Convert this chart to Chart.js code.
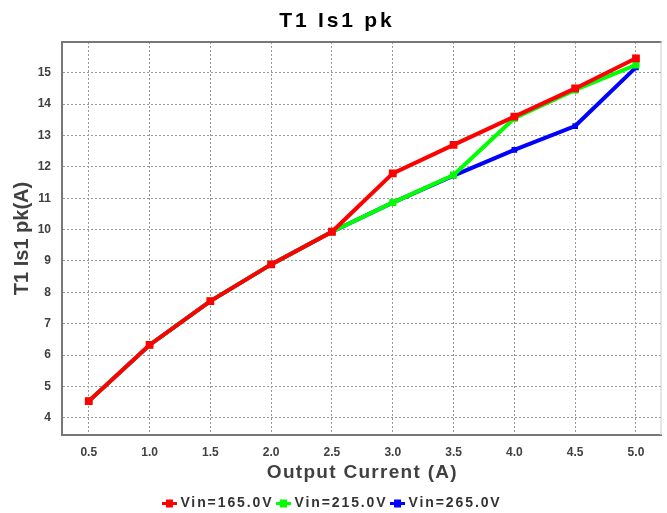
<!DOCTYPE html>
<html lang="en">
<head>
  <meta charset="UTF-8">
  <title>T1 Is1 pk</title>
  <style>
    body { margin: 0; background: #fff; }
    .chart-box { width: 667px; height: 513px; }
  </style>
</head>
<body>
  <div class="chart-box"><canvas id="chart"></canvas></div>

  <script src="https://cdn.jsdelivr.net/npm/chart.js"></script>
  <script>
    // values
    const currents = [0.5, 1.0, 1.5, 2.0, 2.5, 3.0, 3.5, 4.0, 4.5, 5.0];
    const vin165 = [4.53, 6.32, 7.72, 8.89, 9.93, 11.79, 12.70, 13.60, 14.50, 15.46];
    const vin215 = [4.53, 6.32, 7.72, 8.89, 9.93, 10.86, 11.74, 13.55, 14.45, 15.25];
    const vin265 = [4.53, 6.32, 7.72, 8.89, 9.93, 10.86, 11.72, 12.54, 13.30, 15.17];
    const seriesLabels = ['Vin=165.0V', 'Vin=215.0V', 'Vin=265.0V'];
    const seriesColors = ['#ff0000', '#00ff00', '#0000ff'];
    const markerSizes = [5.5, 5, 4];
    const xTicks = [0.5, 1.0, 1.5, 2.0, 2.5, 3.0, 3.5, 4.0, 4.5, 5.0];
    const yTicks = [4, 5, 6, 7, 8, 9, 10, 11, 12, 13, 14, 15];

    const FONT = "'Liberation Sans', Arial, sans-serif";

    function toPoints(values) {
      return currents.map((x, i) => ({ x: x, y: values[i] }));
    }

    // small line + square marker for the legend
    function legendMarker(color) {
      const c = document.createElement('canvas');
      c.width = 15;
      c.height = 9;
      const g = c.getContext('2d');
      g.fillStyle = color;
      g.fillRect(0, 3, 15, 3);
      g.fillRect(4, 0.5, 7, 8);
      return c;
    }

    function spacedText(ctx, text, x, y, spacing) {
      ctx.letterSpacing = spacing + 'px';
      // trailing spacing shifts centred text, compensate
      ctx.fillText(text, x + spacing / 2, y);
      ctx.letterSpacing = '0px';
    }

    // frame line on top, light line on the right
    const framePlugin = {
      id: 'frame',
      beforeDatasetsDraw(chart) {
        const { ctx, chartArea: a } = chart;
        ctx.save();
        ctx.strokeStyle = '#777';
        ctx.lineWidth = 2;
        ctx.beginPath();
        ctx.moveTo(a.left - 1, a.top);
        ctx.lineTo(a.right, a.top);
        ctx.stroke();
        ctx.strokeStyle = '#ccc';
        ctx.lineWidth = 1;
        ctx.beginPath();
        ctx.moveTo(a.right - 0.5, a.top);
        ctx.lineTo(a.right - 0.5, a.bottom);
        ctx.stroke();
        ctx.restore();
      }
    };

    // chart title and axis titles (letter-spaced like the reference)
    const titlesPlugin = {
      id: 'titles',
      afterDraw(chart) {
        const { ctx, chartArea: a } = chart;
        ctx.save();
        ctx.textAlign = 'center';
        ctx.textBaseline = 'middle';
        ctx.fillStyle = '#000';
        ctx.font = 'bold 21px ' + FONT;
        spacedText(ctx, 'T1 Is1 pk', chart.width / 2 + 2, 21, 2.8);
        ctx.fillStyle = '#404040';
        ctx.font = 'bold 19px ' + FONT;
        spacedText(ctx, 'Output Current (A)', (a.left + a.right) / 2, 473, 1.3);
        ctx.translate(22, (a.top + a.bottom) / 2);
        ctx.rotate(-Math.PI / 2);
        ctx.font = 'bold 20px ' + FONT;
        spacedText(ctx, 'T1 Is1 pk(A)', 0, 0, 0);
        ctx.restore();
      }
    };

    // legend text is letter-spaced too; also pin the legend height
    const legendPlugin = {
      id: 'legendTweaks',
      beforeLayout(chart) {
        const lg = chart.legend;
        if (!lg || lg._wrapped) return;
        lg._wrapped = true;
        const fit = lg.fit.bind(lg);
        const draw = lg.draw.bind(lg);
        lg.fit = function () {
          this.ctx.letterSpacing = '1.9px';
          fit();
          this.ctx.letterSpacing = '0px';
          this.height = 22.5;
        };
        lg.draw = function () {
          this.ctx.letterSpacing = '1.9px';
          draw();
          this.ctx.letterSpacing = '0px';
        };
      }
    };

    const datasets = [vin165, vin215, vin265].map((vals, i) => ({
      label: seriesLabels[i],
      data: toPoints(vals),
      borderColor: seriesColors[i],
      backgroundColor: seriesColors[i],
      borderWidth: 4,
      pointStyle: 'rect',
      pointRadius: markerSizes[i],
      pointBorderWidth: 0,
      tension: 0
    }));

    new Chart(document.getElementById('chart'), {
      type: 'line',
      data: { datasets: datasets },
      plugins: [framePlugin, titlesPlugin, legendPlugin],
      options: {
        responsive: true,
        maintainAspectRatio: false,
        animation: false,
        layout: { padding: { top: 42 } },
        plugins: {
          title: { display: false },
          legend: {
            position: 'bottom',
            labels: {
              color: '#333',
              font: { family: FONT, size: 14, weight: 'bold' },
              padding: 6,
              usePointStyle: true,
              pointStyleWidth: 8,
              boxHeight: 8,
              generateLabels(chart) {
                return chart.data.datasets.map((ds, i) => ({
                  text: ds.label,
                  fillStyle: ds.borderColor,
                  strokeStyle: ds.borderColor,
                  fontColor: '#333',
                  lineWidth: 0,
                  pointStyle: legendMarker(ds.borderColor),
                  datasetIndex: i
                }));
              }
            }
          },
          tooltip: { enabled: false }
        },
        scales: {
          x: {
            type: 'linear',
            min: 0.28,
            max: 5.21,
            afterBuildTicks(scale) { scale.ticks = xTicks.map(v => ({ value: v })); },
            afterFit(scale) { scale.height = 55.5; },
            ticks: {
              color: '#404040',
              font: { family: FONT, size: 12, weight: 'bold' },
              padding: 10,
              maxRotation: 0,
              callback: v => v.toFixed(1)
            },
            grid: { color: '#999', lineWidth: 1, drawTicks: false },
            border: { display: true, color: '#777', width: 2, dash: [2, 2] }
          },
          y: {
            min: 3.45,
            max: 15.98,
            afterBuildTicks(scale) { scale.ticks = yTicks.map(v => ({ value: v })); },
            afterFit(scale) { scale.width = 62; },
            ticks: {
              color: '#404040',
              font: { family: FONT, size: 12, weight: 'bold' },
              padding: 11
            },
            grid: { color: '#999', lineWidth: 1, drawTicks: false },
            border: { display: true, color: '#777', width: 2, dash: [2, 2] }
          }
        }
      }
    });
  </script>
</body>
</html>
